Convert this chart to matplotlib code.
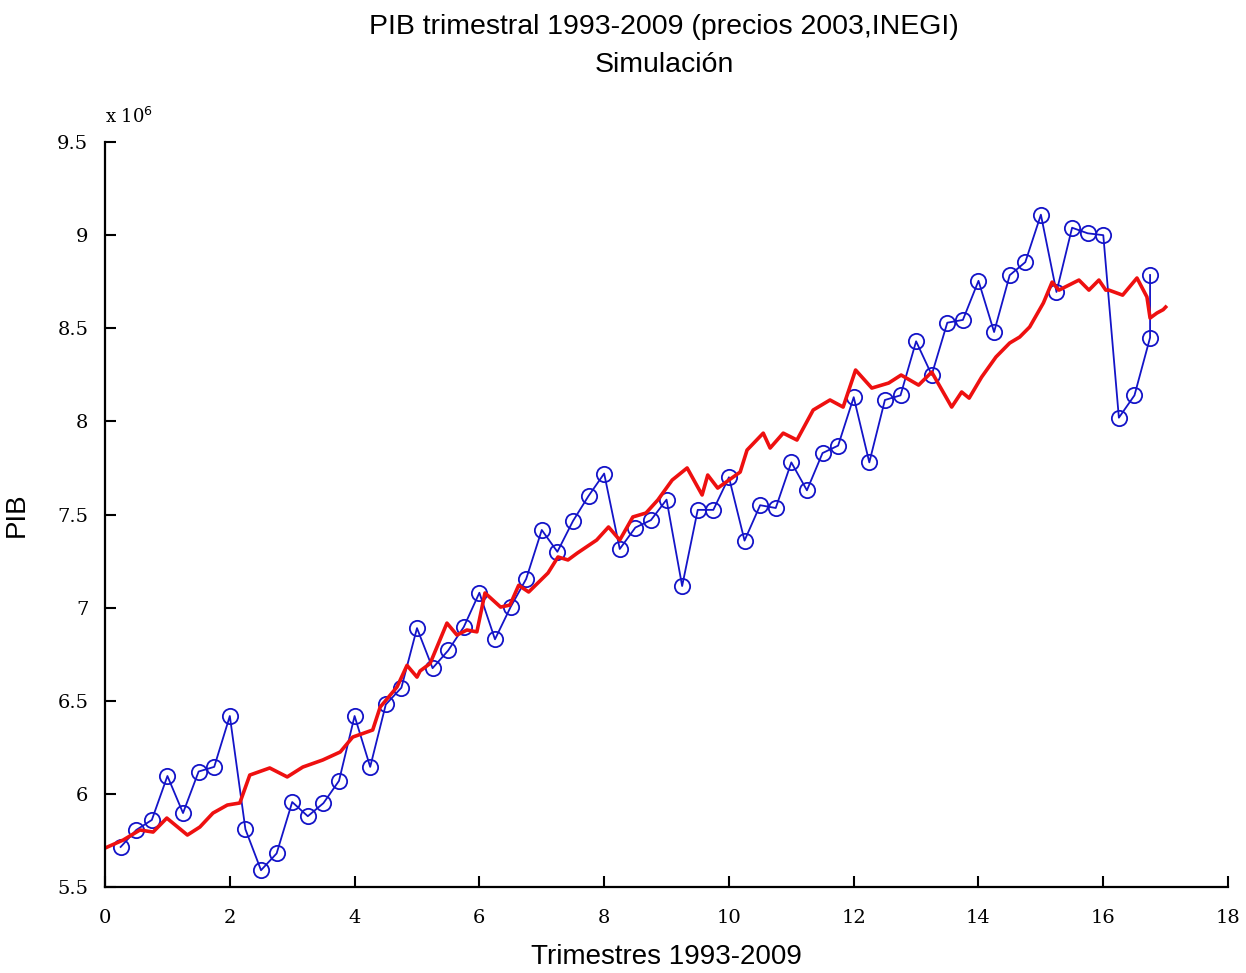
import matplotlib
matplotlib.use('Agg')
import matplotlib.pyplot as plt
import numpy as np

# PIB observado (millones), un valor por trimestre
pib_obs = [5.715, 5.806, 5.86, 6.096, 5.897, 6.12, 6.145, 6.418, 5.81, 5.59,
           5.68, 5.956, 5.88, 5.95, 6.07, 6.418, 6.145, 6.48, 6.57, 6.89,
           6.675, 6.77, 6.896, 7.08, 6.83, 7.003, 7.154, 7.417, 7.30, 7.465,
           7.60, 7.72, 7.315, 7.43, 7.47, 7.58, 7.116, 7.525, 7.525, 7.70,
           7.36, 7.55, 7.535, 7.78, 7.63, 7.83, 7.87, 8.13, 7.78, 8.115,
           8.14, 8.43, 8.25, 8.53, 8.545, 8.755, 8.48, 8.785, 8.855, 9.11,
           8.695, 9.04, 9.01, 9.0, 8.02, 8.14, 8.45, 8.786]
t_obs = [0.25 * k for k in range(1, 68)] + [16.75]

# simulacion
t_sim = [0.0, 0.29, 0.56, 0.77, 0.99, 1.32, 1.52, 1.73, 1.96, 2.16,
         2.32, 2.64, 2.92, 3.17, 3.49, 3.77, 3.97, 4.29, 4.41, 4.68,
         4.84, 5.0, 5.05, 5.21, 5.48, 5.64, 5.80, 5.96, 6.09, 6.34,
         6.49, 6.63, 6.79, 7.10, 7.26, 7.42, 7.57, 7.88, 8.07, 8.25,
         8.46, 8.67, 8.86, 9.09, 9.33, 9.57, 9.66, 9.82, 10.18, 10.29,
         10.55, 10.66, 10.87, 11.09, 11.35, 11.62, 11.83, 12.03, 12.29,
         12.56, 12.76, 13.04, 13.25, 13.57, 13.73, 13.85, 14.05, 14.28,
         14.50, 14.66, 14.82, 15.04, 15.18, 15.29, 15.45, 15.61, 15.77,
         15.93, 16.04, 16.09, 16.31, 16.54, 16.70, 16.75, 16.86, 16.96, 17.0]
pib_sim = [5.709, 5.752, 5.806, 5.795, 5.870, 5.779, 5.822, 5.897, 5.940, 5.951,
           6.101, 6.139, 6.091, 6.144, 6.182, 6.225, 6.305, 6.343, 6.466, 6.574,
           6.69, 6.627, 6.66, 6.70, 6.917, 6.853, 6.88, 6.87, 7.079, 7.003,
           7.014, 7.12, 7.084, 7.186, 7.272, 7.256, 7.293, 7.363, 7.433, 7.363,
           7.487, 7.508, 7.578, 7.685, 7.75, 7.605, 7.712, 7.642, 7.728, 7.846,
           7.937, 7.857, 7.937, 7.90, 8.061, 8.115, 8.077, 8.276, 8.179,
           8.206, 8.249, 8.195, 8.265, 8.077, 8.158, 8.125, 8.238, 8.346,
           8.421, 8.453, 8.507, 8.636, 8.748, 8.705, 8.732, 8.759, 8.705,
           8.759, 8.705, 8.705, 8.678, 8.77, 8.668, 8.555, 8.582, 8.600, 8.614]

fig = plt.figure(figsize=(12.46, 9.73), dpi=100)
ax = fig.add_axes([0.0843, 0.0884, 0.9013, 0.7656])

ax.plot(t_obs, pib_obs, color='#1414c8', lw=1.3, marker='o', ms=11,
        mfc='none', mec='#1414c8', mew=1.3)
ax.plot(t_sim, pib_sim, color='#ee1010', lw=2.6)

ax.set_xlim(0, 18)
ax.set_ylim(5.5, 9.5)
ax.set_xticks(np.arange(0, 19, 2))
ax.set_yticks([5.5, 6, 6.5, 7, 7.5, 8, 8.5, 9, 9.5])
ax.set_yticklabels(['5.5', '6', '6.5', '7', '7.5', '8', '8.5', '9', '9.5'])
ax.tick_params(direction='in', length=8, width=1.5, labelsize=14)
ax.tick_params(axis='x', pad=16)
ax.tick_params(axis='y', pad=12)
for lb in ax.get_xticklabels() + ax.get_yticklabels():
    lb.set_family('DejaVu Serif')
for s in ['top', 'right']:
    ax.spines[s].set_visible(False)
for s in ['left', 'bottom']:
    ax.spines[s].set_linewidth(1.6)

ax.text(0.0, 1.02, r'x 10$^6$', transform=ax.transAxes, fontsize=13,
        ha='left', va='bottom', family='DejaVu Serif')
fig.text(0.533, 0.972, 'PIB trimestral 1993-2009 (precios 2003,INEGI)', fontsize=20.5,
         family='Liberation Sans', ha='center', va='center')
fig.text(0.533, 0.933, 'Simulación', fontsize=20.5,
         family='Liberation Sans', ha='center', va='center')
ax.set_xlabel('Trimestres 1993-2009', fontsize=20, family='Liberation Sans', labelpad=12)
ax.set_ylabel('PIB', fontsize=20, family='Liberation Sans', labelpad=20)

fig.savefig('out.png', dpi=100)
